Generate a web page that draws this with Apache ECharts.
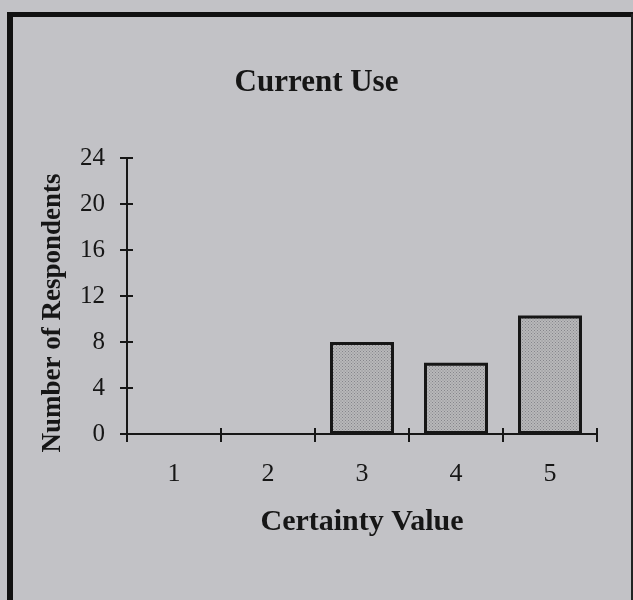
<!DOCTYPE html>
<html>
<head>
<meta charset="utf-8">
<script src="https://cdn.jsdelivr.net/npm/echarts@6/dist/echarts.min.js"></script>
<style>
  html, body { margin: 0; padding: 0; background: #c2c2c6; }
  #chart { width: 633px; height: 600px; }
</style>
</head>
<body>
<div id="chart"></div>
<script>
// certainty values on the x axis
var categories = ['1', '2', '3', '4', '5'];
// number of respondents
var respondents = [0, 0, 8, 6.2, 10.3];
var yTicks = { min: 0, max: 24, step: 4 };

function dotPattern(){
    // small dotted tile, like the screened fill of the printed bars
    var c = document.createElement('canvas');
    c.width = 3; c.height = 3;
    var ctx = c.getContext('2d');
    ctx.fillStyle = '#b8b8ba';
    ctx.fillRect(0, 0, 3, 3);
    ctx.fillStyle = '#86868b';
    ctx.fillRect(0, 0, 1, 1);
    ctx.fillRect(1.5, 1.5, 1, 1);
    return c;
}

var myChart = echarts.init(document.getElementById('chart'));
var serif = '"Liberation Serif", "DejaVu Serif", serif',
    ink = '#161616';

var gridLeft = 127, gridRight = 36, chartW = 633;
var plotW = chartW - gridLeft - gridRight;

// empty categories get no outline, as in the print
var barData = respondents.map(function(v){
    return v === 0 ? { value: v, itemStyle: { borderWidth: 0 } } : v;
});

var option = {
    backgroundColor: '#c2c2c6',
    animation: false,
    title: {
        text: 'Current Use',
        left: 'center',
        top: 62,
        textStyle: { fontFamily: serif, fontSize: 31, fontWeight: 'bold', color: ink }
    },
    grid: { left: gridLeft, right: gridRight, top: 158, bottom: 166 },
    xAxis: [{
        type: 'category',
        data: categories,
        name: 'Certainty Value',
        nameLocation: 'middle',
        nameGap: 73,
        nameTextStyle: { fontFamily: serif, fontSize: 30, fontWeight: 'bold', color: ink },
        axisLine: { lineStyle: { color: ink, width: 2 } },
        axisTick: { show: true, interval: 0, length: 8, lineStyle: { color: ink, width: 2 } },
        axisLabel: { fontFamily: serif, fontSize: 26, color: ink, margin: 27 }
    }, {
        // inner half of the crossing ticks
        type: 'category',
        data: categories,
        position: 'bottom',
        axisLine: { show: false },
        axisTick: { show: true, interval: 0, inside: true, length: 6, lineStyle: { color: ink, width: 2 } },
        axisLabel: { show: false }
    }],
    yAxis: [{
        type: 'value',
        min: yTicks.min,
        max: yTicks.max,
        interval: yTicks.step,
        name: 'Number of Respondents',
        nameLocation: 'middle',
        nameGap: 60,
        nameTextStyle: { fontFamily: serif, fontSize: 27, fontWeight: 'bold', color: ink, padding: [0, 34, 0, 0] },
        axisLine: { show: true, lineStyle: { color: ink, width: 2 } },
        axisTick: { show: true, length: 7, lineStyle: { color: ink, width: 2 } },
        axisLabel: { fontFamily: serif, fontSize: 25, color: ink, margin: 22 },
        splitLine: { show: false }
    }, {
        // inner half of the crossing ticks: a right-hand axis pulled back onto the left edge
        type: 'value',
        min: yTicks.min,
        max: yTicks.max,
        interval: yTicks.step,
        position: 'right',
        offset: -plotW,
        axisLine: { show: false, onZero: false },
        axisTick: { show: true, length: 6, lineStyle: { color: ink, width: 2 } },
        axisLabel: { show: false },
        splitLine: { show: false }
    }],
    series: [{
        type: 'bar',
        data: barData,
        barWidth: 64,
        itemStyle: {
            color: { image: dotPattern(), repeat: 'repeat' },
            borderColor: ink,
            borderWidth: 3
        }
    }],
    graphic: [
        { type: 'line', shape: { x1: 7, y1: 14.5, x2: 633, y2: 14.5 }, style: { stroke: '#111', lineWidth: 5 } },
        { type: 'line', shape: { x1: 10, y1: 12, x2: 10, y2: 600 }, style: { stroke: '#111', lineWidth: 6 } },
        { type: 'line', shape: { x1: 632, y1: 14, x2: 632, y2: 600 }, style: { stroke: '#222', lineWidth: 2 } }
    ]
};

myChart.setOption(option);
</script>
</body>
</html>
